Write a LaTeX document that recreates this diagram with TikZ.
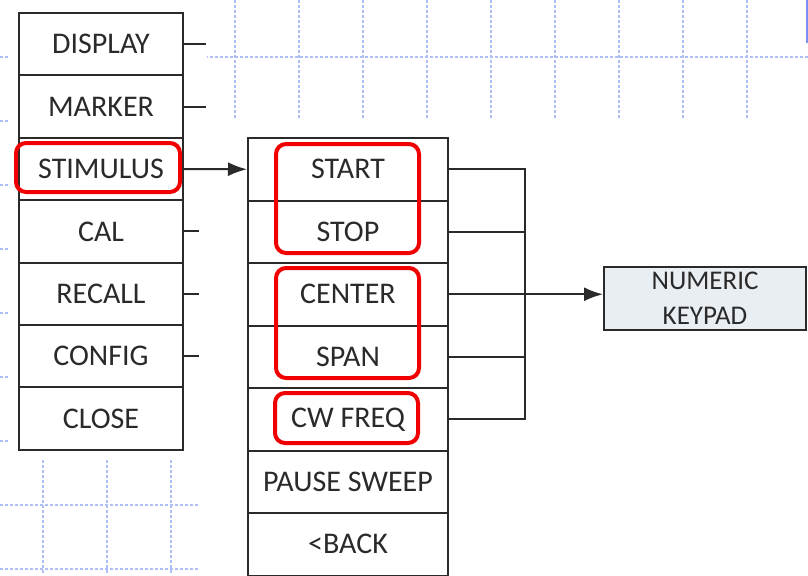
\documentclass[tikz,border=0pt]{standalone}
\usepackage{fontspec}
\setmainfont{Carlito}
\usetikzlibrary{arrows.meta}
\definecolor{inkgray}{HTML}{2A2A2A}
\definecolor{gridblue}{HTML}{AFBEF6}
\definecolor{keyfill}{HTML}{E9EEF3}
\definecolor{hlred}{HTML}{F00000}
\definecolor{barblue}{HTML}{7A90F4}

\begin{document}
\begin{tikzpicture}[x=0.5pt,y=-0.5pt,
  menu/.style={draw=inkgray,line width=1pt,minimum width=82pt,minimum height=31.2pt,
    inner sep=0pt,text=inkgray,font=\fontsize{15}{18}\selectfont},
  sub/.style={menu,minimum width=100pt,minimum height=31.25pt},
  wire/.style={draw=inkgray,line width=1pt},
  tip/.style={-{Latex[length=9.5pt,width=7pt]}},
  hl/.style={draw=hlred,line width=2pt,rounded corners=5pt},
  gridline/.style={gridblue,line width=0.6pt,dash pattern=on 1.5pt off 1pt}]
  \useasboundingbox (0,0) rectangle (808,575);
  \foreach \gx in {43,107,...,747} \draw[gridline] (\gx,0) -- (\gx,575);
  \foreach \gy in {57,121,...,569} \draw[gridline] (0,\gy) -- (808,\gy);
  \fill[white] (10,0) -- (207,0) -- (207,118) -- (808,118) -- (808,575)
    -- (200,575) -- (200,458) -- (10,458) -- cycle;
  \fill[barblue] (806,0) rectangle (808,43);

  \node[menu] (ldisp)   at (101,44.2)  {DISPLAY};
  \node[menu] (lmark)   at (101,106.6) {MARKER};
  \node[menu] (lstim)   at (101,169)   {STIMULUS};
  \node[menu] (lcal)    at (101,231.4) {CAL};
  \node[menu] (lrecall) at (101,293.8) {RECALL};
  \node[menu] (lconfig) at (101,356.2) {CONFIG};
  \node[menu] (lclose)  at (101,418.6) {CLOSE};

  \node[sub] (mstart)  at (348,169.25) {START};
  \node[sub] (mstop)   at (348,231.75) {STOP};
  \node[sub] (mcenter) at (348,294.25) {CENTER};
  \node[sub] (mspan)   at (348,356.75) {SPAN};
  \node[sub] (mcw)     at (348,419.25) {CW FREQ};
  \node[sub] (mpause)  at (348,481.75) {PAUSE SWEEP};
  \node[sub] (mback)   at (348,544.25) {<BACK};

  \node[menu,minimum width=101pt,minimum height=31.5pt,fill=keyfill,align=center,
    font=\fontsize{13.5}{17.5}\selectfont] (keypad) at (705,298.5) {NUMERIC\\KEYPAD};

  \coordinate (ltop) at (206,0);
  \coordinate (lend) at (199,0);
  \coordinate (bus)  at (525,0);

  \draw[wire] (ldisp.east) -- (ldisp.east -| ltop);
  \draw[wire] (lmark.east) -- (lmark.east -| ltop);
  \foreach \n in {lcal,lrecall,lconfig}
    \draw[wire] (\n.east) -- (\n.east -| lend);
  \draw[wire,tip] (lstim.east) -- (mstart.west);

  \draw[wire] (mstart.east) -- (mstart.east -| bus) -- (mcw.east -| bus) -- (mcw.east);
  \foreach \n in {mstop,mcenter,mspan}
    \draw[wire] (\n.east) -- (\n.east -| bus);
  \draw[wire,tip] (mcenter.east -| bus) -- (mcenter.east -| keypad.west);

  \draw[hl] (16,143) rectangle (180,192);
  \draw[hl] (276,144) rectangle (419,253);
  \draw[hl] (276,268) rectangle (419,378);
  \draw[hl] (275,393) rectangle (418,443);
\end{tikzpicture}
\end{document}
